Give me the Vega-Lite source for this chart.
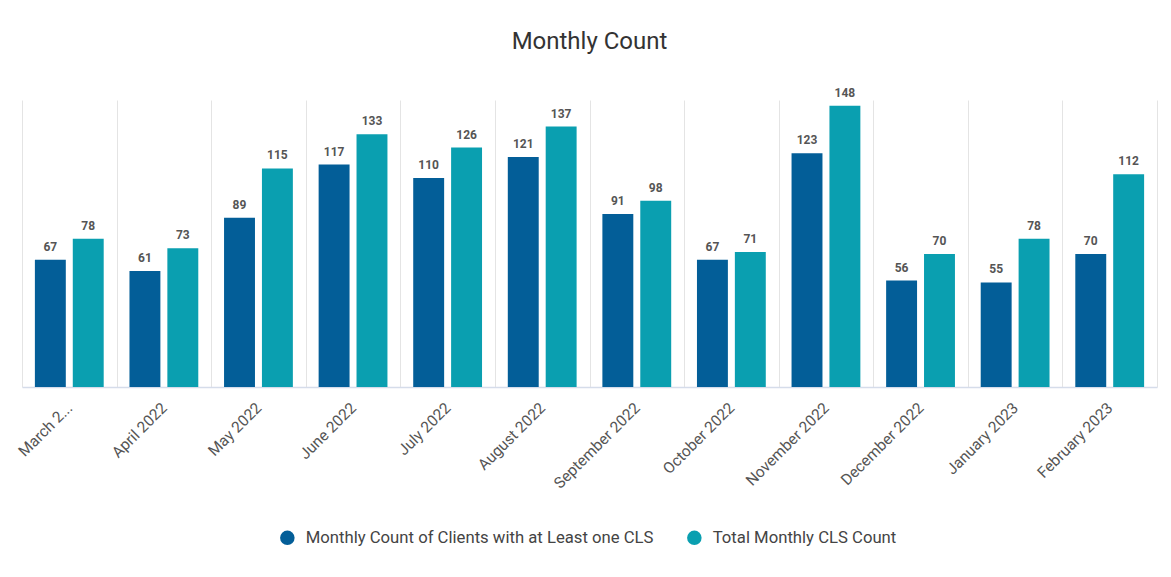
{
  "$schema": "https://vega.github.io/schema/vega-lite/v6.json",
  "width": 1135,
  "height": 287,
  "autosize": {"type": "none"},
  "padding": {"left": 22, "top": 100, "right": 14, "bottom": 190},
  "background": "white",
  "title": {"text": "Monthly Count", "fontSize": 24, "font": "Roboto", "fontWeight": "normal", "color": "#333333", "anchor": "middle", "offset": 33},
  "data": {"values": [
    {"month": "March 2022", "series": "Monthly Count of Clients with at Least one CLS", "value": 67},
    {"month": "March 2022", "series": "Total Monthly CLS Count", "value": 78},
    {"month": "April 2022", "series": "Monthly Count of Clients with at Least one CLS", "value": 61},
    {"month": "April 2022", "series": "Total Monthly CLS Count", "value": 73},
    {"month": "May 2022", "series": "Monthly Count of Clients with at Least one CLS", "value": 89},
    {"month": "May 2022", "series": "Total Monthly CLS Count", "value": 115},
    {"month": "June 2022", "series": "Monthly Count of Clients with at Least one CLS", "value": 117},
    {"month": "June 2022", "series": "Total Monthly CLS Count", "value": 133},
    {"month": "July 2022", "series": "Monthly Count of Clients with at Least one CLS", "value": 110},
    {"month": "July 2022", "series": "Total Monthly CLS Count", "value": 126},
    {"month": "August 2022", "series": "Monthly Count of Clients with at Least one CLS", "value": 121},
    {"month": "August 2022", "series": "Total Monthly CLS Count", "value": 137},
    {"month": "September 2022", "series": "Monthly Count of Clients with at Least one CLS", "value": 91},
    {"month": "September 2022", "series": "Total Monthly CLS Count", "value": 98},
    {"month": "October 2022", "series": "Monthly Count of Clients with at Least one CLS", "value": 67},
    {"month": "October 2022", "series": "Total Monthly CLS Count", "value": 71},
    {"month": "November 2022", "series": "Monthly Count of Clients with at Least one CLS", "value": 123},
    {"month": "November 2022", "series": "Total Monthly CLS Count", "value": 148},
    {"month": "December 2022", "series": "Monthly Count of Clients with at Least one CLS", "value": 56},
    {"month": "December 2022", "series": "Total Monthly CLS Count", "value": 70},
    {"month": "January 2023", "series": "Monthly Count of Clients with at Least one CLS", "value": 55},
    {"month": "January 2023", "series": "Total Monthly CLS Count", "value": 78},
    {"month": "February 2023", "series": "Monthly Count of Clients with at Least one CLS", "value": 70},
    {"month": "February 2023", "series": "Total Monthly CLS Count", "value": 112}
  ]},
  "encoding": {
    "x": {
      "field": "month", "type": "nominal", "sort": null, "title": null,
      "scale": {"paddingInner": 0, "paddingOuter": 0},
      "axis": {
        "labelAngle": -45, "labelAlign": "right", "labelBaseline": "middle",
        "labelFont": "Roboto", "labelFontSize": 15.5, "labelColor": "#555555",
        "labelPadding": 18, "labelLimit": 200,
        "labelExpr": "datum.label == 'March 2022' ? 'March 2...' : datum.label",
        "ticks": false, "tickBand": "extent",
        "grid": true, "gridColor": "#e4e4e4", "gridWidth": 1,
        "domainColor": "#d5dcea", "domainWidth": 1.5
      }
    },
    "xOffset": {"field": "series", "type": "nominal", "scale": {"paddingInner": 0.184, "paddingOuter": 0.34}},
    "y": {"field": "value", "type": "quantitative", "scale": {"domain": [0, 151], "nice": false}, "axis": null}
  },
  "layer": [
    {
      "mark": {"type": "bar"},
      "encoding": {
        "color": {
          "field": "series", "type": "nominal", "title": null,
          "scale": {"domain": ["Monthly Count of Clients with at Least one CLS", "Total Monthly CLS Count"], "range": ["#035E98", "#0A9FB0"]},
          "legend": {
            "orient": "none", "direction": "horizontal", "legendX": 257, "legendY": 429,
            "symbolType": "circle", "symbolSize": 210, "symbolStrokeWidth": 0,
            "labelFont": "Roboto", "labelFontSize": 16.7, "labelColor": "#444444",
            "labelLimit": 500, "columnPadding": 32, "labelOffset": 10
          }
        }
      }
    },
    {
      "mark": {"type": "text", "baseline": "bottom", "dy": -6, "font": "Roboto", "fontSize": 12, "fontWeight": "bold", "color": "#555555"},
      "encoding": {"text": {"field": "value", "type": "quantitative"}}
    }
  ],
  "config": {"view": {"stroke": null}}
}
